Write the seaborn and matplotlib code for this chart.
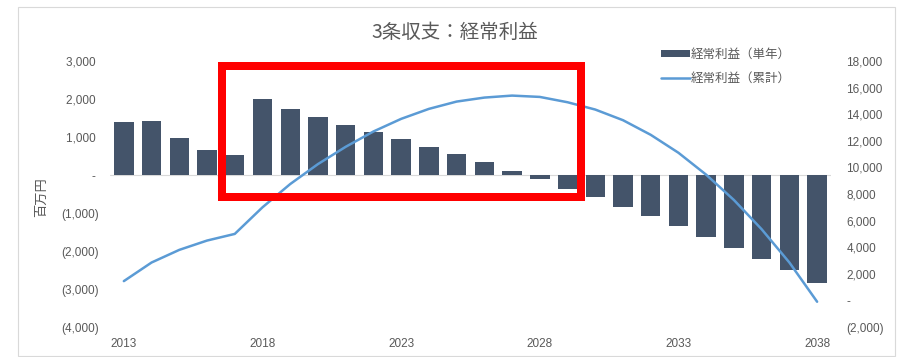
import numpy as np
import pandas as pd
import matplotlib
matplotlib.use("Agg")
import matplotlib.pyplot as plt
from matplotlib.patches import Patch, Rectangle
from matplotlib.lines import Line2D
from matplotlib.ticker import FuncFormatter, FixedLocator
import seaborn as sns

# 経常利益（百万円）
years = list(range(2013, 2039))
annual_profit = [1400, 1410, 980, 660, 520, 2000, 1740, 1530, 1320, 1140,
                 940, 750, 550, 330, 110, -100, -370, -580, -830, -1090,
                 -1350, -1630, -1910, -2200, -2510, -2840]
cumulative_profit = [1450, 2850, 3800, 4500, 5000, 7000, 8750, 10250, 11550,
                     12700, 13650, 14400, 14950, 15250, 15400, 15300, 14900,
                     14350, 13550, 12450, 11100, 9450, 7550, 5350, 2850, -100]
year_ticks = [2013, 2018, 2023, 2028, 2033, 2038]
left_ticks = [-4000, -3000, -2000, -1000, 0, 1000, 2000, 3000]
right_ticks = [-2000, 0, 2000, 4000, 6000, 8000, 10000, 12000, 14000, 16000, 18000]

title = "3条収支：経常利益"
label_annual = "経常利益（単年）"
label_cumulative = "経常利益（累計）"
unit_label = "百万円"

BAR_COLOR = "#44546A"
LINE_COLOR = "#5B9BD5"
TEXT_COLOR = "#595959"
CJK = ["Noto Sans CJK JP", "DejaVu Sans"]
NUM = ["Liberation Sans", "Noto Sans CJK JP"]

sns.set_style("white")
plt.rcParams["font.family"] = CJK

df = pd.DataFrame({"year": years, "annual": annual_profit,
                   "cumulative": cumulative_profit})

fig = plt.figure(figsize=(8.97, 3.57), dpi=100)
ax = fig.add_axes([0.1226, 0.0840, 0.8038, 0.7451])
ax2 = ax.twinx()

sns.barplot(data=df, x="year", y="annual", native_scale=True, color=BAR_COLOR,
            saturation=1, width=0.7, errorbar=None, linewidth=0, ax=ax)
ax.axhline(0, color="#D9D9D9", linewidth=0.8, zorder=0)

sns.lineplot(data=df, x="year", y="cumulative", color=LINE_COLOR,
             linewidth=1.8, ax=ax2)

ax.set_xlim(2012.5, 2038.5)
ax.set_ylim(-4000, 3000)
ax2.set_ylim(-2000, 18000)


def acct(v, pos=None, pad=True):
    v = int(round(v))
    if v == 0:
        return "- " if pad else "-"
    if v < 0:
        return f"({abs(v):,})"
    return f"{v:,} " if pad else f"{v:,}"


ax.yaxis.set_major_locator(FixedLocator(left_ticks))
ax.yaxis.set_major_formatter(FuncFormatter(lambda v, p: acct(v, p, True)))
ax2.yaxis.set_major_locator(FixedLocator(right_ticks))
ax2.yaxis.set_major_formatter(FuncFormatter(lambda v, p: acct(v, p, False)))
ax.xaxis.set_major_locator(FixedLocator(year_ticks))
ax.xaxis.set_major_formatter(FuncFormatter(lambda v, p: f"{int(round(v))}"))

for a in (ax, ax2):
    for s in a.spines.values():
        s.set_visible(False)
    a.set_xlabel("")
    a.set_ylabel("")

ax.tick_params(axis="y", length=0, pad=8, labelsize=8.5, labelcolor=TEXT_COLOR)
ax2.tick_params(axis="y", length=0, pad=11, labelsize=8.5, labelcolor=TEXT_COLOR)
ax.tick_params(axis="x", length=0, pad=8, labelsize=8.5, labelcolor=TEXT_COLOR)
for lab in ax.get_yticklabels() + ax2.get_yticklabels() + ax.get_xticklabels():
    lab.set_family(NUM)

ax.set_ylabel(unit_label, fontsize=9.5, color=TEXT_COLOR, family=CJK)
ax.yaxis.set_label_coords(-0.086, 0.49)

fig.text(0.507, 0.910, title, ha="center", va="center", fontsize=14,
         color=TEXT_COLOR, family=CJK)

handles = [Patch(facecolor=BAR_COLOR, edgecolor="none", label=label_annual),
           Line2D([], [], color=LINE_COLOR, linewidth=1.8, label=label_cumulative)]
fig.legend(handles=handles, loc="upper left", bbox_to_anchor=(0.7302, 0.883),
           frameon=False, borderpad=0, handlelength=2.3, handletextpad=0.05,
           labelspacing=0.85, handleheight=0.5,
           prop={"family": CJK, "size": 9}, labelcolor=TEXT_COLOR)

# chart area frame
fig.patches.append(Rectangle((18 / 897, 1 / 357), 877 / 897, 349 / 357,
                             transform=fig.transFigure, fill=False,
                             edgecolor="#D9D9D9", linewidth=0.8))
# highlight box around 2018-2029
fig.patches.append(Rectangle((0.2475, 0.4482), 0.4002, 0.3669,
                             transform=fig.transFigure, fill=False,
                             edgecolor="#FF0000", linewidth=5.76,
                             joinstyle="miter", zorder=10))

fig.savefig("out.png", dpi=100, facecolor="white")
